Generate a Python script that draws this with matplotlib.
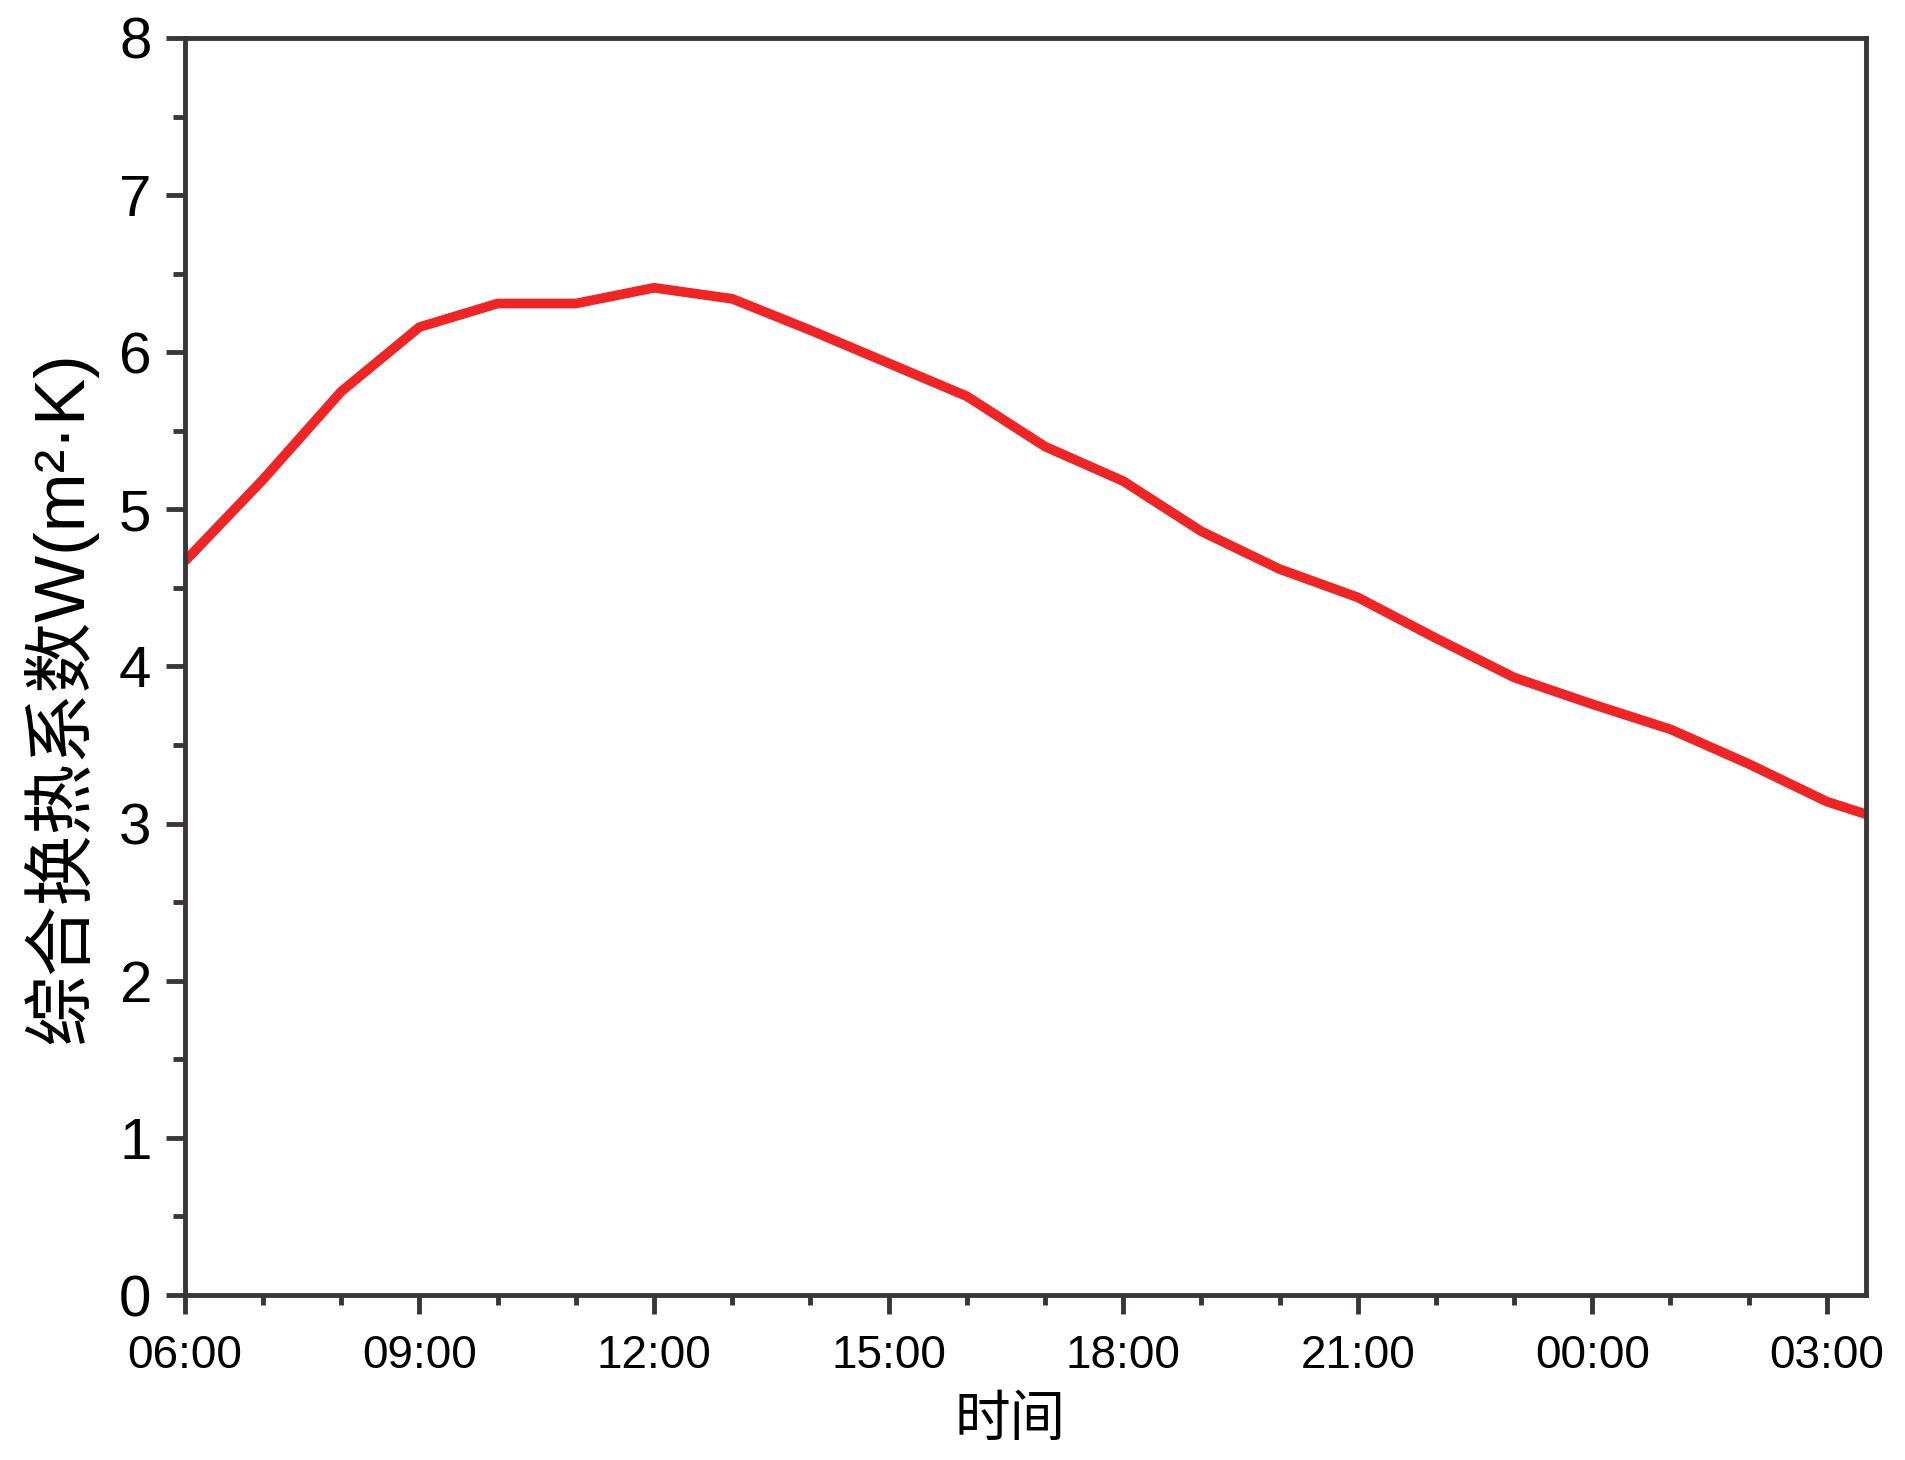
import matplotlib
matplotlib.use("Agg")
import matplotlib.pyplot as plt
from matplotlib.ticker import MultipleLocator

# hours after 06:00
hours = [0, 1, 2, 3, 4, 5, 6, 7, 8, 9, 10, 11, 12, 13, 14, 15, 16, 17, 18, 19, 20, 21, 21.5]
coef = [4.67, 5.19, 5.75, 6.16, 6.31, 6.31, 6.41, 6.34, 6.14, 5.93, 5.72, 5.40, 5.18,
        4.86, 4.62, 4.44, 4.18, 3.93, 3.76, 3.60, 3.38, 3.14, 3.06]

tick_hours = [0, 3, 6, 9, 12, 15, 18, 21]
tick_labels = ["06:00", "09:00", "12:00", "15:00", "18:00", "21:00", "00:00", "03:00"]

plt.rcParams["font.family"] = ["Liberation Sans", "Noto Sans CJK SC", "DejaVu Sans"]

fig = plt.figure(figsize=(19.06, 14.6), dpi=100)
ax = fig.add_axes([0.097, 0.113, 0.882, 0.861])

ax.plot(hours, coef, color="#f02424", linewidth=7, solid_capstyle="butt",
        solid_joinstyle="round")

ax.set_xlim(0, 21.5)
ax.set_ylim(0, 8)
ax.set_xticks(tick_hours)
ax.set_xticklabels(tick_labels)
ax.xaxis.set_minor_locator(MultipleLocator(1))
ax.yaxis.set_major_locator(MultipleLocator(1))
ax.yaxis.set_minor_locator(MultipleLocator(0.5))

edge = "#3a3536"
for s in ax.spines.values():
    s.set_linewidth(3.5)
    s.set_color(edge)

ax.tick_params(axis="both", which="both", direction="out", color=edge, width=3.5)
ax.tick_params(axis="y", which="major", length=14, labelsize=42, pad=10)
ax.tick_params(axis="y", which="minor", length=9)
ax.tick_params(axis="x", which="major", length=14, labelsize=33, pad=14)
ax.tick_params(axis="x", which="minor", length=7)

ax.set_ylabel("综合换热系数W(m²·K)", fontsize=51,
              family=["Liberation Sans", "Noto Sans CJK SC", "DejaVu Sans"])
ax.yaxis.set_label_coords(-0.052, 0.475)
ax.set_xlabel("时间", fontsize=40,
              family=["Noto Sans CJK SC", "DejaVu Sans"])
ax.xaxis.set_label_coords(0.491, -0.077)

fig.savefig("out.png", dpi=100)
